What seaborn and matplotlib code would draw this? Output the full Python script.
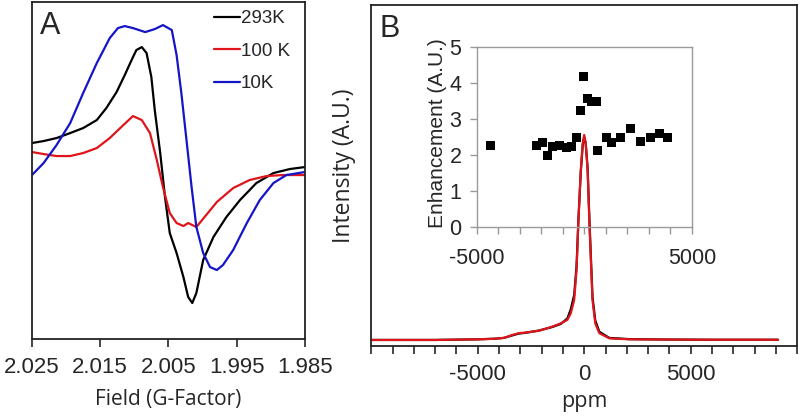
import numpy as np
import pandas as pd
import seaborn as sns
import matplotlib.pyplot as plt

# panel A - EPR spectra (g-factor vs derivative intensity, arbitrary units)
g_293 = [2.0250, 2.0233, 2.0214, 2.0194, 2.0175, 2.0155, 2.0141, 2.0126, 2.0114, 2.0104,
         2.0097, 2.0089, 2.0082, 2.0075, 2.0070, 2.0062, 2.0055, 2.0048, 2.0038, 2.0028,
         2.0021, 2.0015, 2.0009, 1.9999, 1.9984, 1.9965, 1.9945, 1.9921, 1.9896, 1.9872,
         1.9850]
i_293 = [0.27, 0.29, 0.32, 0.37, 0.42, 0.50, 0.62, 0.78, 0.95, 1.10,
         1.20, 1.23, 1.17, 0.93, 0.60, 0.17, -0.27, -0.63, -0.83, -1.07,
         -1.27, -1.33, -1.23, -0.90, -0.67, -0.47, -0.30, -0.13, -0.03, 0.01,
         0.03]

g_100 = [2.0250, 2.0233, 2.0214, 2.0194, 2.0175, 2.0155, 2.0136, 2.0116, 2.0102, 2.0089,
         2.0077, 2.0067, 2.0058, 2.0048, 2.0038, 2.0028, 2.0021, 2.0009, 1.9997, 1.9979,
         1.9955, 1.9931, 1.9906, 1.9882, 1.9850]
i_100 = [0.18, 0.16, 0.14, 0.14, 0.17, 0.22, 0.32, 0.45, 0.54, 0.50,
         0.37, 0.10, -0.17, -0.43, -0.53, -0.56, -0.53, -0.57, -0.47, -0.32,
         -0.18, -0.10, -0.06, -0.05, -0.05]

g_10 = [2.0250, 2.0233, 2.0214, 2.0194, 2.0175, 2.0155, 2.0136, 2.0124, 2.0114, 2.0102,
        2.0084, 2.0070, 2.0058, 2.0045, 2.0038, 2.0031, 2.0023, 2.0016, 2.0009, 1.9999,
        1.9989, 1.9979, 1.9970, 1.9955, 1.9935, 1.9916, 1.9896, 1.9877, 1.9850]
i_10 = [-0.05, 0.07, 0.25, 0.47, 0.77, 1.07, 1.32, 1.42, 1.44, 1.42,
        1.38, 1.41, 1.45, 1.40, 1.15, 0.77, 0.27, -0.17, -0.57, -0.83,
        -0.97, -1.00, -0.95, -0.80, -0.53, -0.30, -0.13, -0.05, -0.02]

# panel B - NMR spectrum (ppm vs intensity)
ppm = [-10000, -7000, -5000, -4200, -3770, -3380, -3070, -2750, -2120, -1500,
       -1100, -790, -630, -470, -360, -270, -160, -70, 0, 70,
       160, 240, 320, 390, 520, 710, 1180, 2120, 4000, 6000, 9100]
spec_red = [0.0, 0.0, 0.003, 0.006, 0.010, 0.024, 0.033, 0.036, 0.045, 0.065,
            0.081, 0.098, 0.13, 0.195, 0.34, 0.585, 0.83, 0.96, 1.0, 0.96,
            0.83, 0.585, 0.37, 0.195, 0.081, 0.033, 0.008, 0.003, 0.002, 0.001, 0.001]
spec_black = [0.0, 0.0, 0.003, 0.006, 0.010, 0.022, 0.031, 0.035, 0.046, 0.063,
              0.078, 0.105, 0.15, 0.22, 0.36, 0.59, 0.82, 0.95, 0.99, 0.96,
              0.84, 0.60, 0.39, 0.21, 0.095, 0.04, 0.010, 0.004, 0.002, 0.001, 0.001]

# inset - enhancement per position
enh_ppm = [-4350, -2230, -1960, -1730, -1480, -1140, -830, -580, -370, -180,
           -50, 150, 350, 540, 600, 1030, 1270, 1700, 2160, 2630,
           3080, 3510, 3850]
enh = [2.25, 2.27, 2.34, 1.99, 2.23, 2.25, 2.21, 2.22, 2.47, 3.22,
       4.18, 3.56, 3.48, 3.47, 2.11, 2.47, 2.35, 2.47, 2.73, 2.36,
       2.47, 2.59, 2.48]

sns.set_style('ticks')
plt.rcParams['font.family'] = ['Liberation Sans', 'DejaVu Sans']
lab_font = ['Open Sans', 'DejaVu Sans']

fig = plt.figure(figsize=(8, 4.18), dpi=100)
axA = fig.add_axes([0.04, 0.189, 0.341, 0.806])
axB = fig.add_axes([0.464, 0.172, 0.5325, 0.816])
axI = fig.add_axes([0.596, 0.457, 0.269, 0.431])

# ---- A
kw = dict(lw=1.6, sort=False, estimator=None, ax=axA)
sns.lineplot(x=g_293, y=i_293, color='black', label='293K', **kw)
sns.lineplot(x=g_100, y=i_100, color='#e0151b', label='100 K', **kw)
sns.lineplot(x=g_10, y=i_10, color='#1515c8', label='10K', **kw)
axA.set_xlim(2.025, 1.985)
axA.set_ylim(-1.69, 1.68)
axA.set_xticks([2.025, 2.015, 2.005, 1.995, 1.985])
axA.set_xticklabels(['2.025', '2.015', '2.005', '1.995', '1.985'])
axA.set_yticks([])
axA.tick_params(axis='x', direction='out', length=6, width=1.2, labelsize=16, pad=7)
axA.set_xlabel('Field (G-Factor)', fontsize=15, family=lab_font, labelpad=8)
axA.legend(loc='upper left', bbox_to_anchor=(0.62, 1.015), frameon=False, fontsize=13.5,
           handlelength=1.35, handletextpad=0.05, labelspacing=0.82, borderpad=0.2)
axA.text(0.03, 0.975, 'A', transform=axA.transAxes, fontsize=22, va='top', ha='left')

# ---- B
kw = dict(lw=1.6, sort=False, estimator=None, ax=axB)
sns.lineplot(x=ppm, y=spec_black, color='black', **kw)
sns.lineplot(x=ppm, y=spec_red, color='#e0151b', **kw)
axB.set_xlim(-10000, 10000)
axB.set_ylim(-0.03, 1.634)
ticksB = np.arange(-10000, 10001, 1000)
axB.set_xticks(ticksB)
axB.set_xticklabels([str(t) if t in (-5000, 0, 5000) else '' for t in ticksB])
axB.set_yticks([])
axB.tick_params(axis='x', direction='out', length=6, width=1.2, labelsize=16, pad=7)
axB.set_xlabel('ppm', fontsize=15.5, family=lab_font, labelpad=4)
axB.set_ylabel('Intensity (A.U.)', fontsize=16.5, family=lab_font)
axB.yaxis.set_label_coords(-0.035, 0.53)
axB.text(0.02, 0.975, 'B', transform=axB.transAxes, fontsize=22, va='top', ha='left')

for ax in (axA, axB):
    for s in ax.spines.values():
        s.set_linewidth(1.3)
        s.set_color('#222222')

# ---- inset
axI.patch.set_alpha(0)
sns.scatterplot(x=enh_ppm, y=enh, marker='s', color='black', s=42, edgecolor='none', ax=axI)
axI.set_xlim(-5000, 5000)
axI.set_ylim(0, 5)
ticksI = np.arange(-5000, 5001, 1000)
axI.set_xticks(ticksI)
axI.set_xticklabels([str(t) if t in (-5000, 5000) else '' for t in ticksI])
axI.set_yticks([0, 1, 2, 3, 4, 5])
axI.tick_params(direction='out', length=5, width=1, color='#999999', labelsize=15.5, pad=6)
axI.tick_params(axis='x', pad=10)
axI.set_ylabel('Enhancement (A.U.)', fontsize=15)
axI.yaxis.set_label_coords(-0.14, 0.52)
for s in axI.spines.values():
    s.set_color('#9a9a9a')
    s.set_linewidth(1)

fig.savefig('out.png', dpi=100)
